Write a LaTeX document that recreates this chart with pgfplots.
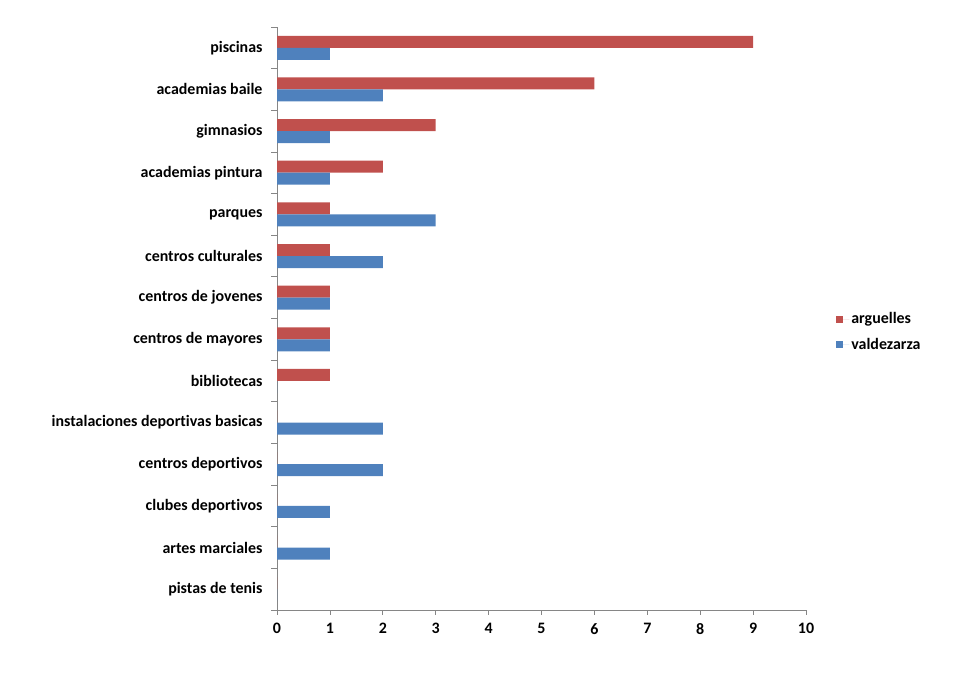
\documentclass[border=0pt]{standalone}
\usepackage{pgfplots}
\pgfplotsset{compat=1.18}
\usepackage{fontspec}
\setmainfont{Carlito}[Ligatures=NoCommon]
\definecolor{cred}{HTML}{C0504D}
\definecolor{cblue}{HTML}{4F81BD}
\definecolor{cax}{HTML}{868686}
\begin{document}
\begin{tikzpicture}
\useasboundingbox (0bp,0bp) rectangle (960bp,675bp);
\begin{axis}[
  at={(277bp,65bp)}, anchor=south west,
  scale only axis, width=529bp, height=583bp,
  xmin=0, xmax=10, ymin=-0.5, ymax=13.5,
  xbar, bar width=12bp,
  axis x line*=bottom, axis y line*=left,
  axis line style={cax, line width=0.8bp},
  every tick/.style={cax, line width=0.8bp},
  xtick={0,...,10},
  ytick={0,...,13},
  yticklabels={pistas de tenis, artes marciales, clubes deportivos, centros deportivos, instalaciones deportivas basicas, bibliotecas, centros de mayores, centros de jovenes, centros culturales, parques, academias pintura, gimnasios, academias baile, piscinas},
  minor ytick={-0.5,0.5,...,13.5},
  major tick length=0bp,
  minor tick length=6bp,
  tick align=outside,
  extra x ticks={0,...,10}, extra x tick labels={},
  extra x tick style={major tick length=5bp},
  /pgf/number format/assume math mode=true,
  tick label style={font=\fontsize{16}{19}\selectfont\bfseries, black},
  yticklabel style={xshift=-11bp},
  xticklabel style={yshift=-10bp},
  legend style={at={(1.057,0.477)}, anchor=west, draw=none, fill=none,
    font=\fontsize{16}{19}\selectfont\bfseries, row sep=9bp, inner sep=0pt},
  legend cell align=left,
  legend image code/.code={\fill[#1] (0bp,-3.5bp) rectangle (7bp,3.5bp); \path (0bp,0bp) -- (13bp,0bp);},
  clip=false,
]
\addplot[fill=cred, draw=none, bar shift=6bp] coordinates {
 (0,0) (0,1) (0,2) (0,3) (0,4) (1,5) (1,6) (1,7) (1,8) (1,9) (2,10) (3,11) (6,12) (9,13)};
\addlegendentry{arguelles}
\addplot[fill=cblue, draw=none, bar shift=-6bp] coordinates {
 (0,0) (1,1) (1,2) (2,3) (2,4) (0,5) (1,6) (1,7) (2,8) (3,9) (1,10) (1,11) (2,12) (1,13)};
\addlegendentry{valdezarza}
\end{axis}
\end{tikzpicture}
\end{document}
